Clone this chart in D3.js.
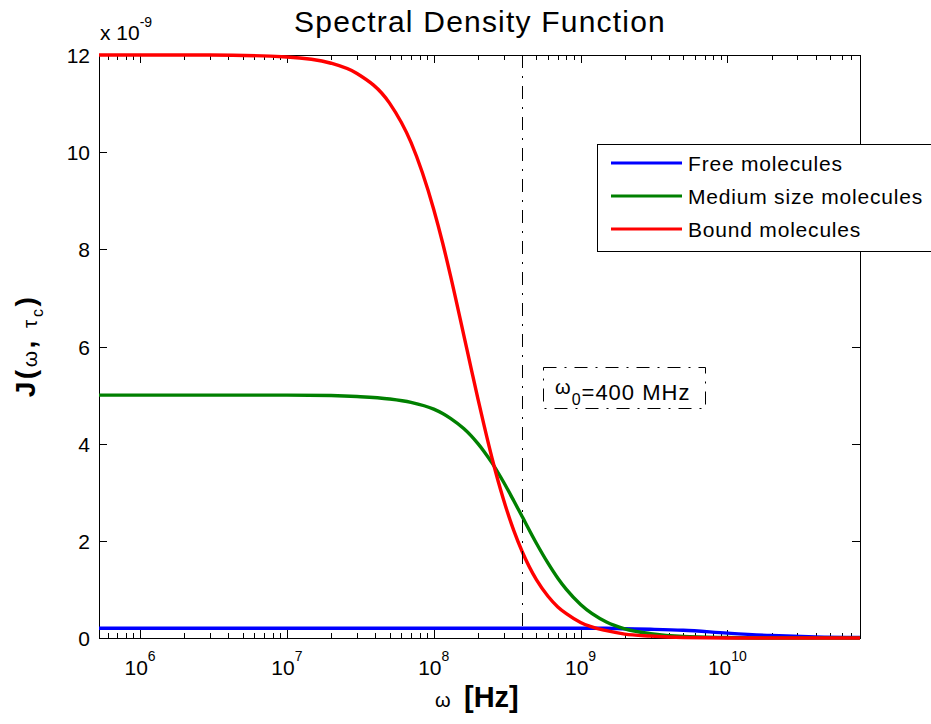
<!DOCTYPE html>
<html><head><meta charset="utf-8">
<script src="https://cdn.jsdelivr.net/npm/d3@7"></script>
<style>
body{margin:0;background:#fff}
svg{display:block}
text{font-family:"Liberation Sans",Arial,Helvetica,sans-serif;fill:#000}
</style>
</head><body>
<svg id="c" width="931" height="724"></svg>
<script>
// ---- data ----
const omega = [5.25e5, 1e6, 3e6, 1e7, 2e7, 3e7, 5e7, 7e7, 1e8, 1.15e8, 1.3e8, 1.6e8, 1.8e8, 2e8, 2.2e8, 2.5e8,
               3e8, 3.5e8, 4e8, 5e8, 6e8, 7e8, 8e8, 1e9, 1.5e9, 2e9, 3e9, 5e9, 1e10, 2e10, 4e10, 8e10];
const freeMolecules = [0.20,0.20,0.20,0.20,0.20,0.20,0.20,0.20,0.20,0.20,0.20,0.20,0.20,0.20,0.20,0.20,
                       0.20,0.20,0.20,0.20,0.20,0.20,0.20,0.20,0.20,0.19,0.18,0.16,0.10,0.05,0.02,0.01];
const mediumMolecules = [5.00,5.00,5.00,5.00,4.99,4.97,4.92,4.85,4.71,4.62,4.52,4.31,4.16,4.00,3.84,3.60,
                         3.20,2.83,2.50,1.95,1.54,1.23,1.00,0.69,0.33,0.19,0.09,0.03,0.01,0.00,0.00,0.00];
const boundMolecules = [12.00,12.00,12.00,11.96,11.83,11.62,11.01,10.20,8.82,8.13,7.46,6.24,5.54,4.92,4.38,3.69,
                        2.83,2.22,1.78,1.20,0.86,0.64,0.50,0.32,0.15,0.08,0.04,0.01,0.00,0.00,0.00,0.00];
const seriesNames = ["Free molecules", "Medium size molecules", "Bound molecules"];
const seriesColors = ["#0000ff", "#008000", "#ff0000"];
const xMajorTicks = [1e6, 1e7, 1e8, 1e9, 1e10];
const xTickExponents = ["6", "7", "8", "9", "10"];
const yTicks = [0, 2, 4, 6, 8, 10, 12];
const xDomain = [5.25e5, 8e10];
const yDomain = [0, 12];
const omega0 = 4e8;
const titleText = "Spectral Density Function";

// ---- layout ----
const P = {l: 99, r: 860, t: 55, b: 638};
const svg = d3.select("#c");
const x = d3.scaleLog().domain(xDomain).range([P.l, P.r]);
const y = d3.scaleLinear().domain(yDomain).range([P.b, P.t]);

const xMinor = [];
for (let e = 5; e <= 10; e++) for (let k = 2; k <= 9; k++) {
  const v = k * Math.pow(10, e);
  if (v > xDomain[0] && v < xDomain[1]) xMinor.push(v);
}

function drawAxis(gen, tx, ty) {
  const g = svg.append("g").attr("transform", `translate(${tx},${ty})`).call(gen);
  g.select(".domain").remove();
  g.selectAll("line").attr("stroke", "#000").attr("stroke-width", 1).attr("shape-rendering", "crispEdges");
  g.selectAll("text").remove();
  return g;
}
drawAxis(d3.axisBottom(x).tickValues(xMinor).tickSize(-5).tickFormat(""), 0, P.b);
drawAxis(d3.axisBottom(x).tickValues(xMajorTicks).tickSize(-8).tickFormat(""), 0, P.b);
drawAxis(d3.axisTop(x).tickValues(xMinor).tickSize(-5).tickFormat(""), 0, P.t);
drawAxis(d3.axisTop(x).tickValues(xMajorTicks).tickSize(-8).tickFormat(""), 0, P.t);
drawAxis(d3.axisLeft(y).tickValues(yTicks).tickSize(-8).tickFormat(""), P.l, 0);
drawAxis(d3.axisRight(y).tickValues(yTicks).tickSize(-8).tickFormat(""), P.r, 0);

// box
svg.append("rect").attr("x", P.l).attr("y", P.t).attr("width", P.r - P.l).attr("height", P.b - P.t)
  .attr("fill", "none").attr("stroke", "#000").attr("stroke-width", 1).attr("shape-rendering", "crispEdges");

// y tick labels
svg.append("g").selectAll("text").data(yTicks).join("text")
  .attr("x", 90).attr("y", d => y(d) + 8).attr("text-anchor", "end")
  .attr("font-size", 21).text(d => d);

// x tick labels with superscripts
const xl = svg.append("g").selectAll("text").data(xMajorTicks).join("text")
  .attr("x", d => x(d)).attr("y", 675).attr("text-anchor", "middle").attr("font-size", 21);
xl.append("tspan").text("10");
xl.append("tspan").attr("font-size", 14).attr("dy", -14).text((d, i) => xTickExponents[i]);

// exponent multiplier
const mul = svg.append("text").attr("x", 100).attr("y", 40).attr("font-size", 21);
mul.append("tspan").text("x 10");
mul.append("tspan").attr("font-size", 14).attr("dy", -13).text("-9");

// curves
const series = [freeMolecules, mediumMolecules, boundMolecules];
const line = d3.line().x((d, i) => x(omega[i])).y(d => y(d)).curve(d3.curveMonotoneX);
series.forEach((s, k) => {
  svg.append("path").datum(s).attr("d", line).attr("fill", "none")
    .attr("stroke", seriesColors[k]).attr("stroke-width", 3.4).attr("stroke-linejoin", "round");
});

// omega0 line
svg.append("line").attr("x1", x(omega0)).attr("x2", x(omega0)).attr("y1", P.t).attr("y2", P.b)
  .attr("stroke", "#000").attr("stroke-width", 1).attr("stroke-dasharray", "13,8,2,8")
  .attr("shape-rendering", "crispEdges");

// annotation box
svg.append("rect").attr("x", 543.5).attr("y", 367.5).attr("width", 162).attr("height", 41)
  .attr("fill", "none").attr("stroke", "#000").attr("stroke-width", 1).attr("stroke-dasharray", "13,8,2,8");
const ann = svg.append("text").attr("x", 555).attr("y", 400).attr("font-size", 22).attr("letter-spacing", 1);
ann.append("tspan").attr("font-size", 20).attr("y", 394).text("ω");
ann.append("tspan").attr("font-size", 16).attr("y", 405).text("0");
ann.append("tspan").attr("y", 400).text("=400 MHz");

// legend
const lg = svg.append("g");
lg.append("rect").attr("x", 597.5).attr("y", 144.5).attr("width", 360).attr("height", 107)
  .attr("fill", "#fff").attr("stroke", "#000").attr("stroke-width", 1).attr("shape-rendering", "crispEdges");
seriesNames.forEach((n, k) => {
  const yy = 163 + k * 33;
  lg.append("line").attr("x1", 611).attr("x2", 682).attr("y1", yy).attr("y2", yy)
    .attr("stroke", seriesColors[k]).attr("stroke-width", 3);
  lg.append("text").attr("x", 688).attr("y", yy + 8).attr("font-size", 21)
    .attr("letter-spacing", 0.8).text(n);
});

// title
svg.append("text").attr("x", 480).attr("y", 32).attr("text-anchor", "middle")
  .attr("font-size", 30).attr("letter-spacing", 1.2).text(titleText);

// x label
const xlab = svg.append("text").attr("x", 435).attr("y", 707);
xlab.append("tspan").attr("font-size", 20).text("ω");
xlab.append("tspan").attr("x", 464).attr("font-size", 29).attr("font-weight", "bold").text("[Hz]");

// y label
const ylab = svg.append("text").attr("transform", "translate(35,346) rotate(-90)")
  .attr("text-anchor", "middle").attr("font-size", 28).attr("font-weight", "bold").attr("letter-spacing", 2.5);
ylab.append("tspan").text("J(");
ylab.append("tspan").attr("font-weight", "normal").attr("font-size", 21).attr("dy", 2).text("ω");
ylab.append("tspan").attr("dy", -2).text(", ");
ylab.append("tspan").attr("font-weight", "normal").attr("font-size", 21).attr("dy", 2).text("τ");
ylab.append("tspan").attr("font-weight", "normal").attr("font-size", 16).attr("dy", 6).text("c");
ylab.append("tspan").attr("dy", -8).text(")");
</script>
</body></html>
